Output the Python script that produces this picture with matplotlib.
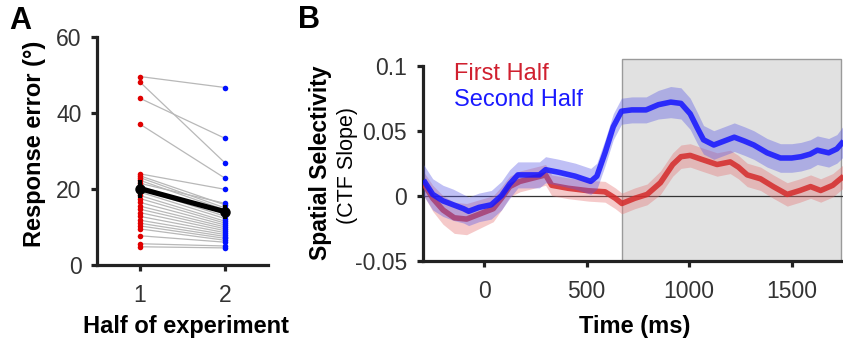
import numpy as np
import matplotlib
matplotlib.use("Agg")
import matplotlib.pyplot as plt
from matplotlib.patches import Rectangle

plt.rcParams['font.family'] = ['Liberation Sans', 'DejaVu Sans']

# ---------------- Panel A data ----------------
half_positions = [1, 2]
half_labels = ["1", "2"]
first_half_err = [49.6, 48.2, 43.9, 37.1, 24.0, 23.5, 23.0, 22.3, 21.5, 20.8, 20.0, 19.2, 18.3,
                  17.5, 16.5, 15.5, 14.7, 13.8, 12.8, 11.8, 11.0, 10.3, 9.5, 7.7, 5.6, 4.8]
second_half_err = [46.7, 26.8, 33.3, 22.8, 19.9, 15.8, 15.0, 14.5, 16.2, 13.5, 12.8, 12.2, 11.5,
                   11.0, 10.5, 10.0, 9.5, 9.0, 8.5, 8.0, 7.5, 7.0, 6.5, 6.0, 5.0, 4.5]
a_yticks = [0, 20, 40, 60]

# ---------------- Panel B data ----------------
t_second = [-295, -250, -200, -150, -100, -75, -25, 35, 85, 125, 165, 225, 270, 300, 365, 445, 520,
            550, 590, 630, 670, 720, 790, 850, 910, 960, 1005, 1040, 1070, 1120, 1170, 1220, 1270,
            1315, 1380, 1445, 1500, 1545, 1590, 1625, 1680, 1720, 1753]
v_second = [0.012, 0.001, -0.004, -0.007, -0.010, -0.012, -0.009, -0.007, 0.000, 0.009, 0.016, 0.016,
            0.016, 0.020, 0.018, 0.015, 0.011, 0.015, 0.033, 0.053, 0.065, 0.066, 0.066, 0.070, 0.072,
            0.071, 0.063, 0.052, 0.043, 0.039, 0.042, 0.045, 0.042, 0.039, 0.033, 0.029, 0.029, 0.030,
            0.032, 0.035, 0.033, 0.036, 0.042]
sem_second = [0.012, 0.012, 0.012, 0.012, 0.011, 0.011, 0.011, 0.011, 0.011, 0.011, 0.010, 0.010,
              0.010, 0.010, 0.010, 0.010, 0.010, 0.010, 0.010, 0.010, 0.010, 0.010, 0.010, 0.011, 0.012,
              0.012, 0.012, 0.012, 0.011, 0.011, 0.011, 0.011, 0.011, 0.011, 0.011, 0.011, 0.011, 0.011,
              0.011, 0.011, 0.011, 0.011, 0.012]

t_first = [-295, -250, -200, -145, -85, -20, 45, 85, 125, 175, 225, 275, 300, 330, 410, 510, 590, 640,
           672, 735, 795, 860, 920, 960, 1005, 1060, 1136, 1200, 1240, 1283, 1348, 1410, 1478, 1540,
           1592, 1641, 1700, 1753]
v_first = [0.0095, -0.002, -0.011, -0.017, -0.018, -0.014, -0.010, -0.002, 0.007, 0.011, 0.013, 0.015,
           0.016, 0.008, 0.0057, 0.0038, 0.003, -0.002, -0.006, -0.002, 0.001, 0.010, 0.024, 0.030,
           0.031, 0.028, 0.024, 0.026, 0.022, 0.016, 0.013, 0.007, 0.001, 0.004, 0.007, 0.004, 0.008,
           0.015]
sem_first = [0.009, 0.010, 0.011, 0.012, 0.012, 0.011, 0.010, 0.009, 0.008, 0.008, 0.008, 0.008,
             0.008, 0.008, 0.008, 0.008, 0.008, 0.008, 0.008, 0.008, 0.008, 0.009, 0.009, 0.009,
             0.009, 0.009, 0.009, 0.009, 0.009, 0.009, 0.009, 0.009, 0.009, 0.009, 0.009, 0.009, 0.009,
             0.009]

b_xticks = [0, 500, 1000, 1500]
b_yticks = [-0.05, 0, 0.05, 0.1]
b_ytick_labels = ["-0.05", "0", "0.05", "0.1"]
window_start, window_end = 675, 1740

# ---------------- Figure ----------------
W, H = 843, 341
fig = plt.figure(figsize=(W / 100, H / 100), dpi=100)

def frac(l, t, r, b):
    return [l / W, 1 - b / H, (r - l) / W, (b - t) / H]

tick_col = '#333333'
spine_w = 2.3

def style(ax):
    for s in ['top', 'right']:
        ax.spines[s].set_visible(False)
    for s in ['left', 'bottom']:
        ax.spines[s].set_linewidth(spine_w)
        ax.spines[s].set_color('#222222')
    ax.tick_params(axis='both', direction='out', length=4, width=spine_w, color='#222222',
                   labelsize=16.5, labelcolor=tick_col)
    ax.tick_params(axis='x', pad=10)
    ax.tick_params(axis='y', pad=7)

# Panel A
axA = fig.add_axes(frac(97, 37, 268, 265))
style(axA)
for r, b in zip(first_half_err, second_half_err):
    axA.plot(half_positions, [r, b], color='#b8b8b8', lw=0.9, zorder=1)
axA.plot([1] * len(first_half_err), first_half_err, 'o', color='#e00000', ms=4, mec='none', zorder=2)
axA.plot([2] * len(second_half_err), second_half_err, 'o', color='#0010ff', ms=4, mec='none', zorder=2)
means = [np.mean(first_half_err), np.mean(second_half_err)]
sems = [np.std(first_half_err, ddof=1) / np.sqrt(len(first_half_err)),
        np.std(second_half_err, ddof=1) / np.sqrt(len(second_half_err))]
axA.errorbar(half_positions, means, yerr=sems, color='black', lw=3.8, marker='o', ms=6.5,
             elinewidth=3, capsize=0, zorder=3)
axA.set_xlim(0.5, 2.5)
axA.set_ylim(0, 60)
axA.set_xticks(half_positions)
axA.set_xticklabels(half_labels)
axA.set_yticks(a_yticks)
fig.text(35 / W, 1 - 144 / H, "Response error (°)", rotation=90, ha='center', va='center',
         fontsize=17, fontweight='bold')
fig.text(186 / W, 1 - 327 / H, "Half of experiment", ha='center', va='center',
         fontsize=17, fontweight='bold')
fig.text(20 / W, 1 - 21 / H, "A", ha='center', va='center', fontsize=22, fontweight='bold')

# Panel B
axB = fig.add_axes(frac(422.5, 65.7, 843, 260.7))
style(axB)
axB.set_xlim(-300, 1750)
axB.set_ylim(-0.05, 0.1)
axB.add_patch(Rectangle((window_start, -0.05), window_end - window_start, 0.155,
                        facecolor='#e1e1e1', edgecolor='#9a9a9a', lw=1.0, zorder=0, clip_on=False))
axB.axhline(0, color='#333333', lw=0.9, zorder=1)

tf, vf, sf = np.array(t_first), np.array(v_first), np.array(sem_first)
ts, vs, ss = np.array(t_second), np.array(v_second), np.array(sem_second)
axB.fill_between(tf, vf - sf, vf + sf, color='#e57373', alpha=0.38, lw=0, zorder=2)
axB.plot(tf, vf, color='#d42a2a', lw=4.0, alpha=0.85, zorder=3, solid_capstyle='butt',
         solid_joinstyle='round')
axB.fill_between(ts, vs - ss, vs + ss, color='#5a5ae6', alpha=0.38, lw=0, zorder=4)
axB.plot(ts, vs, color='#1414ff', lw=4.0, alpha=0.85, zorder=5, solid_capstyle='butt',
         solid_joinstyle='round')

axB.set_xticks(b_xticks)
axB.set_yticks(b_yticks)
axB.set_yticklabels(b_ytick_labels)
axB.text(-145, 0.0935, "First Half", color='#d0202f', fontsize=17, ha='left', va='center')
axB.text(-145, 0.0735, "Second Half", color='#1a1aff', fontsize=17, ha='left', va='center')

fig.text(635 / W, 1 - 327 / H, "Time (ms)", ha='center', va='center', fontsize=17, fontweight='bold')
fig.text(320 / W, 1 - 163 / H, "Spatial Selectivity", rotation=90, ha='center', va='center',
         fontsize=16.5, fontweight='bold')
fig.text(348 / W, 1 - 166 / H, "(CTF Slope)", rotation=90, ha='center', va='center', fontsize=15.5)
fig.text(309 / W, 1 - 20 / H, "B", ha='center', va='center', fontsize=22, fontweight='bold')

fig.savefig("out.png", dpi=100)
